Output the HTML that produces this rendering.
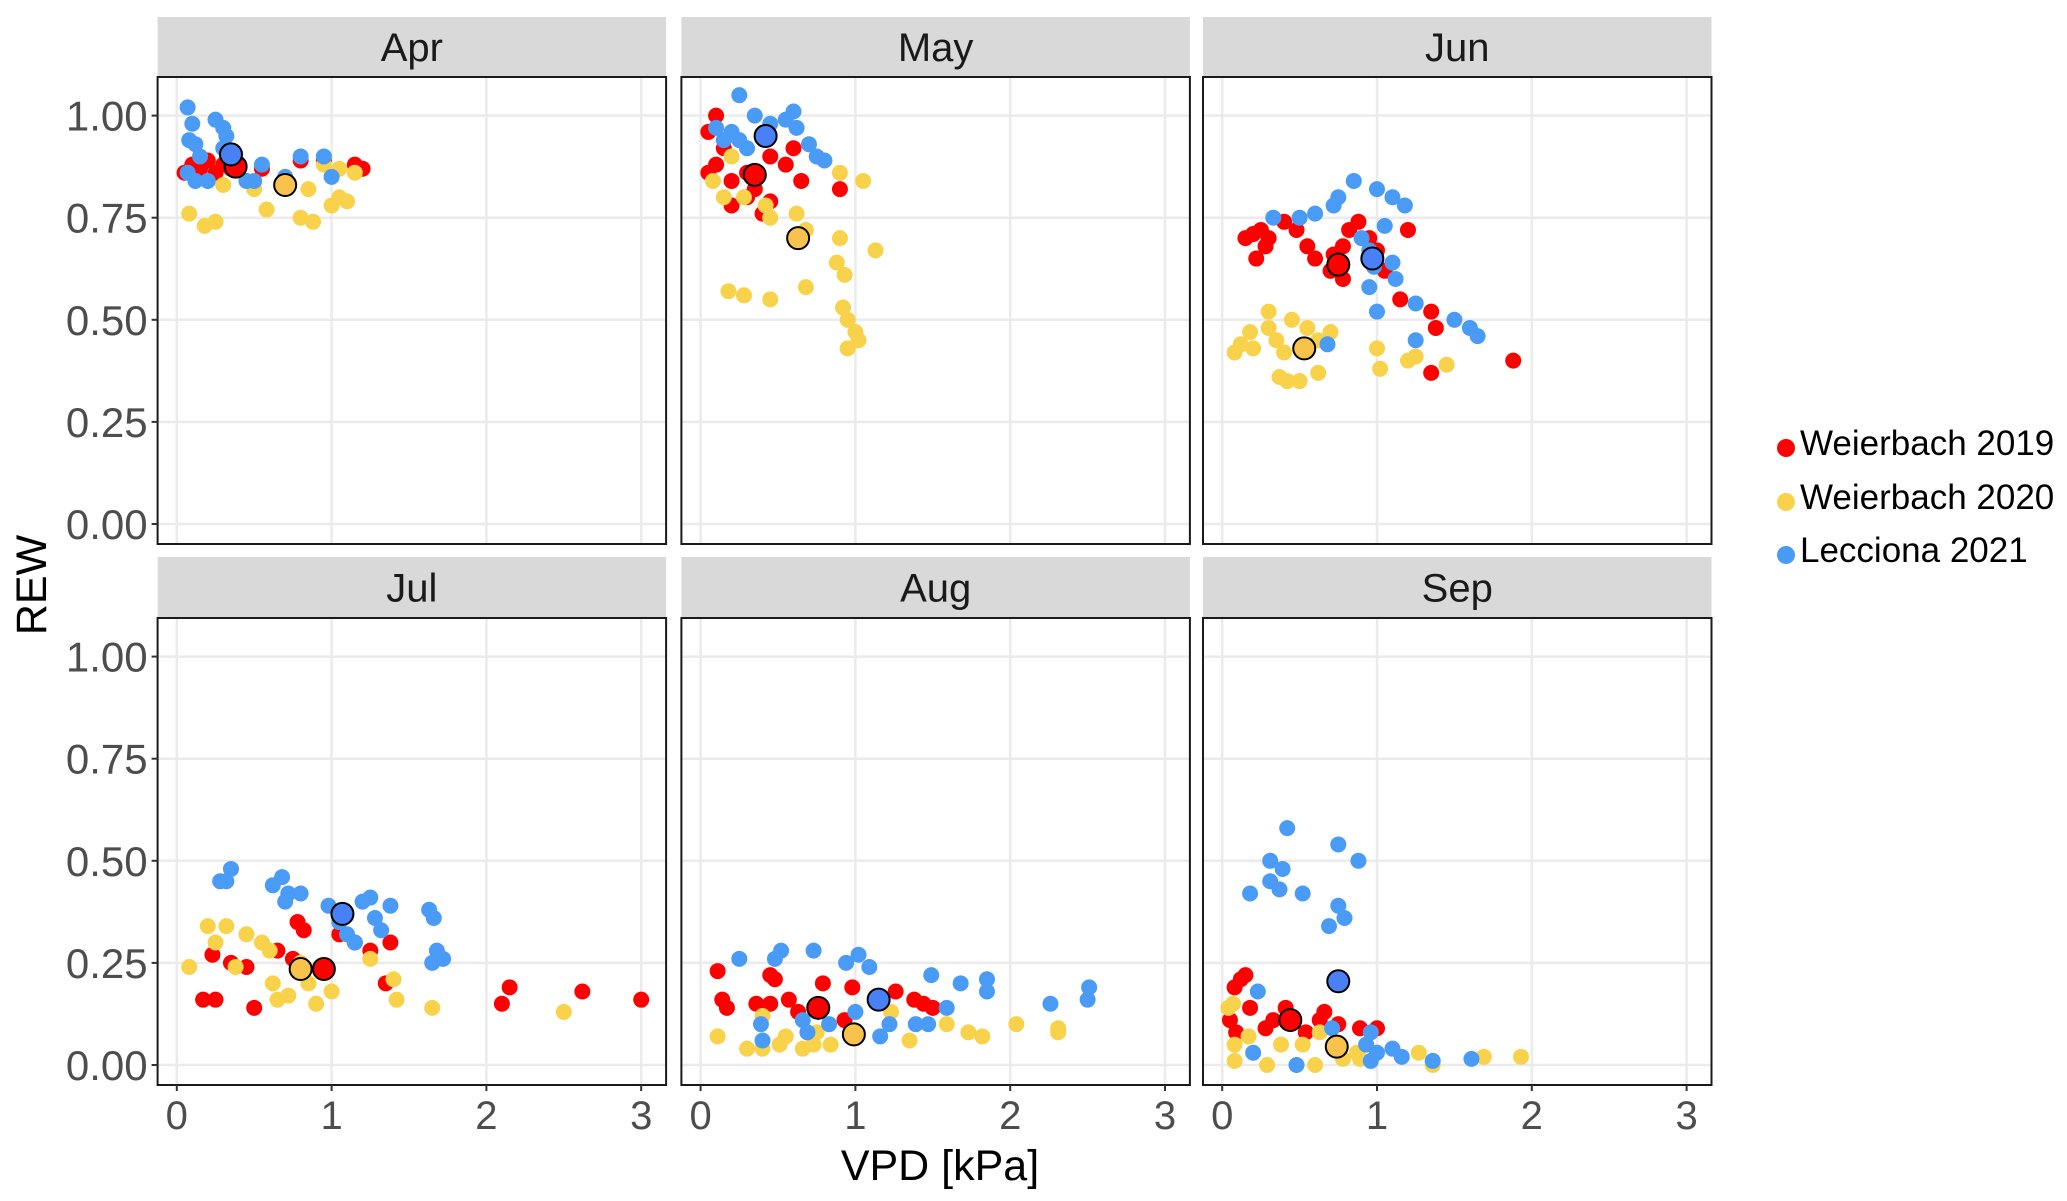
<!DOCTYPE html>
<html><head><meta charset="utf-8"><style>
html,body{margin:0;padding:0;background:#fff;}
svg{display:block;font-family:"Liberation Sans",Arial,sans-serif;}
</style></head><body>
<svg id="chart" width="2067" height="1201"></svg>
<script>
const months = ["Apr","May","Jun","Jul","Aug","Sep"];
const seriesNames = ["Weierbach 2019","Weierbach 2020","Lecciona 2021"];
const xTicks = [0,1,2,3];
const yTicks = [0,0.25,0.5,0.75,1.0];
const yTickLabels = ["0.00","0.25","0.50","0.75","1.00"];
// [vpd, rew] pairs per month per series
const red = [
 [[0.05,0.86],[0.1,0.88],[0.15,0.87],[0.2,0.89],[0.25,0.86],[0.3,0.88],[0.35,0.87],[0.55,0.87],[0.8,0.89],[0.95,0.89],[1.15,0.88],[1.2,0.87]],
 [[0.05,0.96],[0.1,1.0],[0.15,0.92],[0.1,0.88],[0.05,0.86],[0.2,0.84],[0.3,0.86],[0.35,0.82],[0.2,0.78],[0.3,0.8],[0.4,0.76],[0.45,0.9],[0.6,0.92],[0.55,0.88],[0.65,0.84],[0.9,0.82],[0.45,0.79]],
 [[0.15,0.7],[0.2,0.71],[0.25,0.72],[0.3,0.7],[0.28,0.68],[0.22,0.65],[0.4,0.74],[0.48,0.72],[0.55,0.68],[0.6,0.65],[0.7,0.62],[0.72,0.66],[0.78,0.68],[0.78,0.6],[0.82,0.72],[0.88,0.74],[0.95,0.7],[1.0,0.67],[1.05,0.62],[1.15,0.55],[1.2,0.72],[1.35,0.52],[1.38,0.48],[1.35,0.37],[1.88,0.4]],
 [[0.17,0.16],[0.25,0.16],[0.23,0.27],[0.35,0.25],[0.45,0.24],[0.5,0.14],[0.65,0.28],[0.75,0.26],[0.78,0.35],[0.82,0.33],[0.95,0.24],[1.05,0.32],[1.15,0.3],[1.38,0.3],[1.35,0.2],[2.1,0.15],[2.15,0.19],[2.62,0.18],[3.0,0.16],[1.25,0.28]],
 [[0.11,0.23],[0.14,0.16],[0.17,0.14],[0.36,0.15],[0.45,0.22],[0.48,0.21],[0.45,0.15],[0.57,0.16],[0.79,0.2],[0.98,0.19],[0.93,0.11],[1.26,0.18],[1.38,0.16],[1.44,0.15],[1.5,0.14],[0.63,0.13]],
 [[0.15,0.22],[0.12,0.21],[0.08,0.19],[0.18,0.14],[0.05,0.11],[0.09,0.08],[0.28,0.09],[0.33,0.11],[0.41,0.14],[0.66,0.13],[0.63,0.11],[0.75,0.1],[0.89,0.09],[1.0,0.09],[0.54,0.08]]
];
const yellow = [
 [[0.08,0.76],[0.18,0.73],[0.25,0.74],[0.58,0.77],[0.8,0.75],[0.88,0.74],[1.0,0.78],[1.05,0.8],[1.1,0.79],[0.3,0.83],[0.5,0.82],[0.7,0.85],[0.95,0.88],[1.05,0.87],[1.15,0.86],[0.85,0.82]],
 [[0.08,0.84],[0.15,0.8],[0.28,0.8],[0.2,0.9],[0.42,0.78],[0.45,0.75],[0.62,0.76],[0.68,0.72],[0.68,0.58],[0.18,0.57],[0.28,0.56],[0.45,0.55],[0.9,0.86],[1.05,0.84],[0.9,0.7],[0.88,0.64],[0.93,0.61],[0.92,0.53],[0.95,0.5],[1.0,0.47],[1.02,0.45],[0.95,0.43],[1.13,0.67]],
 [[0.08,0.42],[0.12,0.44],[0.2,0.43],[0.18,0.47],[0.3,0.48],[0.35,0.45],[0.4,0.42],[0.3,0.52],[0.45,0.5],[0.55,0.48],[0.62,0.45],[0.7,0.47],[0.37,0.36],[0.42,0.35],[0.5,0.35],[0.62,0.37],[1.0,0.43],[1.02,0.38],[1.2,0.4],[1.25,0.41],[1.45,0.39]],
 [[0.08,0.24],[0.2,0.34],[0.25,0.3],[0.32,0.34],[0.38,0.24],[0.45,0.32],[0.55,0.3],[0.6,0.28],[0.62,0.2],[0.65,0.16],[0.72,0.17],[0.8,0.25],[0.85,0.2],[0.9,0.15],[1.0,0.18],[1.4,0.21],[1.42,0.16],[1.65,0.14],[2.5,0.13],[1.25,0.26]],
 [[0.11,0.07],[0.3,0.04],[0.4,0.04],[0.4,0.12],[0.51,0.05],[0.55,0.07],[0.66,0.04],[0.73,0.05],[0.84,0.05],[0.75,0.08],[1.35,0.06],[1.59,0.1],[1.73,0.08],[1.82,0.07],[2.04,0.1],[2.31,0.09],[2.31,0.08],[1.23,0.13]],
 [[0.04,0.14],[0.07,0.15],[0.08,0.05],[0.08,0.01],[0.17,0.07],[0.29,0.0],[0.38,0.05],[0.52,0.05],[0.6,0.0],[0.63,0.08],[0.78,0.015],[0.87,0.03],[1.27,0.03],[1.36,0.0],[1.69,0.02],[1.93,0.02],[0.89,0.015]]
];
const blue = [
 [[0.07,1.02],[0.1,0.98],[0.08,0.94],[0.12,0.93],[0.15,0.9],[0.07,0.86],[0.12,0.84],[0.2,0.84],[0.25,0.99],[0.3,0.97],[0.32,0.95],[0.3,0.92],[0.4,0.88],[0.45,0.84],[0.5,0.84],[0.55,0.88],[0.7,0.85],[0.8,0.9],[0.95,0.9],[1.0,0.85]],
 [[0.25,1.05],[0.35,1.0],[0.1,0.97],[0.2,0.96],[0.15,0.94],[0.3,0.92],[0.55,0.99],[0.6,1.01],[0.62,0.97],[0.7,0.93],[0.75,0.9],[0.8,0.89],[0.25,0.94],[0.45,0.98]],
 [[0.33,0.75],[0.5,0.75],[0.6,0.76],[0.72,0.78],[0.75,0.8],[0.85,0.84],[0.9,0.7],[0.95,0.67],[0.98,0.63],[0.95,0.58],[1.0,0.52],[1.0,0.82],[1.1,0.8],[1.18,0.78],[1.05,0.73],[1.1,0.64],[1.12,0.6],[1.25,0.54],[1.25,0.45],[1.5,0.5],[1.6,0.48],[1.65,0.46],[0.68,0.44]],
 [[0.28,0.45],[0.35,0.48],[0.32,0.45],[0.62,0.44],[0.68,0.46],[0.72,0.42],[0.7,0.4],[0.8,0.42],[0.98,0.39],[1.05,0.35],[1.1,0.32],[1.15,0.3],[1.2,0.4],[1.25,0.41],[1.28,0.36],[1.32,0.33],[1.38,0.39],[1.63,0.38],[1.66,0.36],[1.68,0.28],[1.72,0.26],[1.65,0.25]],
 [[0.25,0.26],[0.48,0.26],[0.52,0.28],[0.73,0.28],[0.94,0.25],[1.02,0.27],[1.09,0.24],[1.49,0.22],[1.68,0.2],[1.85,0.21],[1.85,0.18],[2.26,0.15],[2.51,0.19],[2.5,0.16],[1.59,0.14],[1.47,0.1],[1.39,0.1],[1.22,0.1],[1.16,0.07],[1.0,0.13],[0.83,0.1],[0.69,0.08],[0.66,0.11],[0.39,0.1],[0.4,0.06]],
 [[0.42,0.58],[0.75,0.54],[0.88,0.5],[0.31,0.5],[0.39,0.48],[0.31,0.45],[0.37,0.43],[0.52,0.42],[0.18,0.42],[0.75,0.39],[0.79,0.36],[0.69,0.34],[0.23,0.18],[0.2,0.03],[0.48,0.0],[0.96,0.08],[0.93,0.05],[1.0,0.03],[1.1,0.04],[1.16,0.02],[1.36,0.01],[1.61,0.015],[0.96,0.01],[0.71,0.09]]
];
const meanRed = [[0.38,0.875],[0.35,0.855],[0.75,0.635],[0.95,0.235],[0.76,0.14],[0.44,0.11]];
const meanYellow = [[0.7,0.83],[0.63,0.70],[0.53,0.43],[0.8,0.235],[0.99,0.075],[0.74,0.045]];
const meanBlue = [[0.35,0.905],[0.42,0.95],[0.97,0.65],[1.07,0.37],[1.15,0.16],[0.75,0.205]];

const NS="http://www.w3.org/2000/svg";
const svg=document.getElementById('chart');
function mk(tag,attrs,parent){const e=document.createElementNS(NS,tag);for(const k in attrs)e.setAttribute(k,attrs[k]);(parent||svg).appendChild(e);return e;}
const colLeft=[157.6,681.4,1203];
const panelW=508.5;
const rows=[{stripTop:17,top:77,bottom:544},{stripTop:557,top:618,bottom:1085}];
const xUnit=154.8, xOff=19.2, yUnit=408.4;
const colors=["#ff0000","#f9d24c","#4a9bf6"];
const meanColors=["#ff0000","#f9c24c","#4a80f6"];
const all=[red,yellow,blue], means=[meanRed,meanYellow,meanBlue];

months.forEach((m,i)=>{
  const r=rows[Math.floor(i/3)], L=colLeft[i%3];
  const xs=v=>L+xOff+v*xUnit;
  const y0=r.bottom-20;
  const ys=v=>y0-v*yUnit;
  const g=mk('g',{});
  
  
  const strip=mk('rect',{x:L,y:r.stripTop,width:panelW,height:r.top-r.stripTop,fill:'#d9d9d9'},g);
  
  
  const st=mk('text',{x:L+panelW/2,y:r.stripTop+(r.top-r.stripTop)/2+14,'text-anchor':'middle','font-size':40,fill:'#1a1a1a'},g);
  st.textContent=m;
  
  
  mk('rect',{x:L,y:r.top,width:panelW,height:r.bottom-r.top,fill:'#fff'},g);
  yTicks.forEach(t=>mk('line',{x1:L,x2:L+panelW,y1:ys(t),y2:ys(t),stroke:'#ebebeb','stroke-width':2.5},g));
  xTicks.forEach(t=>mk('line',{x1:xs(t),x2:xs(t),y1:r.top,y2:r.bottom,stroke:'#ebebeb','stroke-width':2.5},g));
  [0,1,2].forEach(s=>all[s][i].forEach(p=>{
    const c=mk('circle',{cx:xs(p[0]),cy:ys(p[1]),r:8,fill:colors[s]},g);
    
    
  }));
  [0,1,2].forEach(s=>{const p=means[s][i];
    const c=mk('circle',{cx:xs(p[0]),cy:ys(p[1]),r:11,fill:meanColors[s],stroke:'#000','stroke-width':2},g);
    
    
  });
  mk('rect',{x:L,y:r.top,width:panelW,height:r.bottom-r.top,fill:'none',stroke:'#1a1a1a','stroke-width':2},g);
  if(i%3===0){
    yTicks.forEach((t,k)=>{
      mk('line',{x1:L-6,x2:L,y1:ys(t),y2:ys(t),stroke:'#333','stroke-width':2},g);
      const tl=mk('text',{x:L-10,y:ys(t)+15,'text-anchor':'end','font-size':42,fill:'#4d4d4d'},g);
      tl.textContent=yTickLabels[k];
      
      
    });
  }
  if(i>=3){
    xTicks.forEach(t=>{
      mk('line',{x1:xs(t),x2:xs(t),y1:r.bottom,y2:r.bottom+6,stroke:'#333','stroke-width':2},g);
      const tl=mk('text',{x:xs(t),y:r.bottom+44,'text-anchor':'middle','font-size':40,fill:'#4d4d4d'},g);
      tl.textContent=String(t);
      
      
    });
  }
});
const xt=mk('text',{x:940,y:1180,'text-anchor':'middle','font-size':43,fill:'#000'});
xt.textContent='VPD [kPa]';


const yt=mk('text',{x:0,y:0,'text-anchor':'middle','font-size':43,fill:'#000',transform:'translate(46,585) rotate(-90)'});
yt.textContent='REW';


const legY=[443,497,550];
seriesNames.forEach((n,k)=>{
  const g=mk('g',{});
  
  
  mk('circle',{cx:1786,cy:legY[k]+5,r:9,fill:colors[k]},g);
  const t=mk('text',{x:1800,y:legY[k]+12,'font-size':35,fill:'#000'},g);
  t.textContent=n;
});
</script>
</body></html>
